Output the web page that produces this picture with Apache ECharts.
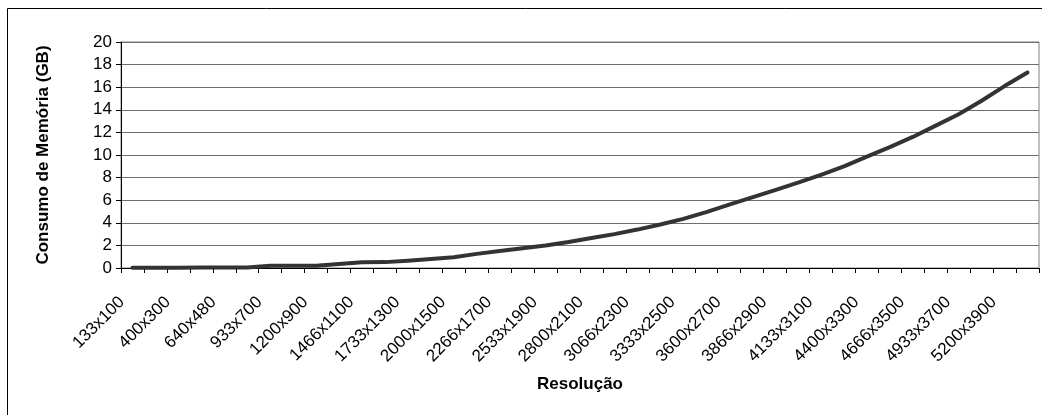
<!DOCTYPE html>
<html>
<head>
<meta charset="utf-8">
<script src="https://cdn.jsdelivr.net/npm/echarts@6/dist/echarts.min.js"></script>
<style>
html,body{margin:0;padding:0;background:#fff;}
#chart{width:1042px;height:415px;}
</style>
</head>
<body>
<div id="chart"></div>
<script>
var categories = [
  "133x100","266x200","400x300","533x400","640x480","800x600","933x700","1066x800",
  "1200x900","1333x1000","1466x1100","1600x1200","1733x1300","1866x1400","2000x1500","2133x1600",
  "2266x1700","2400x1800","2533x1900","2666x2000","2800x2100","2933x2200","3066x2300","3200x2400",
  "3333x2500","3466x2600","3600x2700","3733x2800","3866x2900","4000x3000","4133x3100","4266x3200",
  "4400x3300","4533x3400","4666x3500","4800x3600","4933x3700","5066x3800","5200x3900","5333x4000"
];
var memoryGB = [
  0.02,0.03,0.03,0.04,0.04,0.05,0.19,0.2,
  0.2,0.35,0.5,0.52,0.65,0.8,0.95,1.25,
  1.5,1.75,2.0,2.3,2.65,3.0,3.4,3.85,
  4.35,4.95,5.6,6.25,6.9,7.55,8.25,9.0,
  9.85,10.7,11.6,12.6,13.6,14.8,16.1,17.3
];
var yTicks = { min: 0, max: 20, interval: 2 };
var xAxisTitle = "Resolução";
var yAxisTitle = "Consumo de Memória (GB)";

var chart = echarts.init(document.getElementById('chart'), null, {renderer:'canvas'});
var font = "'Liberation Sans', Arial, sans-serif";
chart.setOption({
  animation: false,
  backgroundColor: '#fff',
  graphic: [{
    type: 'rect',
    shape: { x: 7.5, y: 8.5, width: 1200, height: 600 },
    style: { fill: 'none', stroke: '#000', lineWidth: 1 },
    silent: true
  }],
  grid: {
    left: 121, right: 3, top: 42, bottom: 147,
    show: true, borderColor: '#808080', borderWidth: 1, backgroundColor: 'transparent'
  },
  xAxis: {
    type: 'category',
    data: categories,
    boundaryGap: true,
    name: xAxisTitle,
    nameLocation: 'middle',
    nameGap: 108,
    nameTextStyle: { fontFamily: font, fontSize: 17, fontWeight: 'bold', color: '#000' },
    axisLine: { lineStyle: { color: '#000', width: 1 } },
    axisTick: { show: true, interval: 0, length: 5, lineStyle: { color: '#000' } },
    axisLabel: {
      interval: 1, rotate: 45, margin: 21, padding: [0, 15, 0, 0],
      fontFamily: font, fontSize: 17, color: '#000'
    },
    splitLine: { show: false }
  },
  yAxis: {
    type: 'value',
    min: yTicks.min, max: yTicks.max, interval: yTicks.interval,
    name: yAxisTitle,
    nameLocation: 'middle',
    nameGap: 69,
    nameTextStyle: { fontFamily: font, fontSize: 17, fontWeight: 'bold', color: '#000' },
    axisLine: { show: true, lineStyle: { color: '#000', width: 1 } },
    axisTick: { show: true, length: 5, lineStyle: { color: '#000' } },
    axisLabel: { margin: 9, fontFamily: font, fontSize: 17, color: '#000' },
    splitLine: { show: true, lineStyle: { color: '#6e6e6e', width: 1 } }
  },
  series: [{
    type: 'line',
    data: memoryGB,
    showSymbol: false,
    symbol: 'none',
    smooth: false,
    lineStyle: { color: '#333333', width: 4, cap: 'round', join: 'round' }
  }]
});
</script>
</body>
</html>
